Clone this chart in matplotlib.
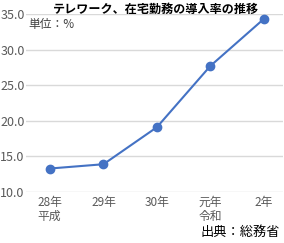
import matplotlib
matplotlib.use("Agg")
import matplotlib.pyplot as plt

plt.rcParams['font.family'] = ['Noto Sans CJK JP', 'DejaVu Sans']

categories = ["28年\n平成", "29年", "30年", "元年\n令和", "2年"]
values = [13.3, 13.9, 19.1, 27.7, 34.3]
yticks = [10.0, 15.0, 20.0, 25.0, 30.0, 35.0]
title = "テレワーク、在宅勤務の導入率の推移"
unit = "単位：%"
source = "出典：総務省"

W, H = 284, 243
fig = plt.figure(figsize=(W/100, H/100), dpi=100)
ax = fig.add_axes([26/W, 1-192/H, (283-26)/W, (192-14)/H])

x = list(range(len(categories)))
ax.plot(x, values, color='#4472C4', linewidth=1.5, marker='o', markersize=6, zorder=3)
ax.set_xlim(-0.45, 4.36)
ax.set_ylim(10, 35)
ax.set_yticks(yticks)
ax.set_yticklabels([f"{v:.1f}" for v in yticks], color='#595959', fontsize=9)
ax.yaxis.grid(True, color='#D9D9D9', linewidth=1)
ax.set_axisbelow(True)
for s in ax.spines.values():
    s.set_visible(False)
ax.tick_params(axis='both', length=0, pad=1)
ax.set_xticks(x)
ax.set_xticklabels(categories, color='#595959', fontsize=8.5, linespacing=1.1,
                   ha='center', va='top')
for lbl in ax.get_xticklabels():
    lbl.set_multialignment('left')
ax.tick_params(axis='x', pad=3)

fig.text(156/W, 1-13/H, title, ha='center', va='baseline', fontsize=8.7,
         fontweight='bold', color='#000000')
fig.text(28/W, 1-28/H, unit, ha='left', va='baseline', fontsize=8.5, color='#404040')
fig.text(280/W, 1-236/H, source, ha='right', va='baseline', fontsize=9.5, color='#000000')

fig.savefig("out.png", dpi=100)
